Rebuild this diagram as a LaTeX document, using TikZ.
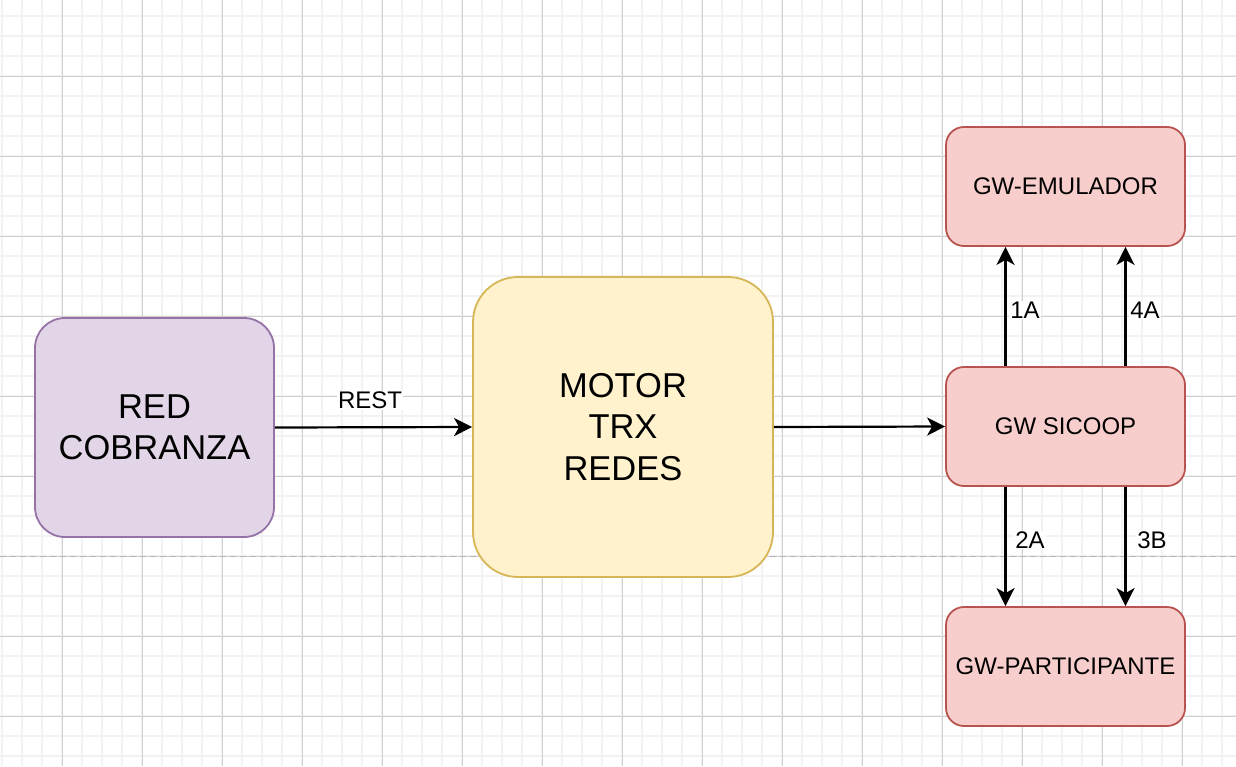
\documentclass[tikz,border=0pt]{standalone}
\usepackage{fontspec}
\setmainfont{Liberation Sans}
\usetikzlibrary{arrows.meta}
\definecolor{minorgrid}{HTML}{F2F2F2}
\definecolor{majorgrid}{HTML}{D0D0D0}
\definecolor{pagebreak}{HTML}{B5B5B5}
\definecolor{purplefill}{HTML}{E1D5E7}
\definecolor{purpleline}{HTML}{9673A6}
\definecolor{yellowfill}{HTML}{FFF2CC}
\definecolor{yellowline}{HTML}{D6B656}
\definecolor{redfill}{HTML}{F8CECC}
\definecolor{redline}{HTML}{B85450}
\tikzset{
  bigfont/.style={font=\fontsize{34.5}{41.5}\selectfont},
  smallfont/.style={font=\fontsize{24}{28}\selectfont},
  purplebox/.style={draw=purpleline, fill=purplefill, line width=1.8pt, rounded corners=30pt,
     minimum width=239pt, minimum height=219pt, align=center, bigfont, inner sep=0pt},
  yellowbox/.style={draw=yellowline, fill=yellowfill, line width=1.8pt, rounded corners=45pt,
     minimum width=300pt, minimum height=300pt, align=center, bigfont, inner sep=0pt},
  redbox/.style={draw=redline, fill=redfill, line width=1.8pt, rounded corners=18pt,
     minimum width=239pt, minimum height=119pt, align=center, smallfont, inner sep=0pt},
  conn/.style={line width=2.2pt, -{Stealth[length=18pt,width=18pt,inset=5pt]}},
  lbl/.style={smallfont, fill=white, inner sep=1pt},
}
\begin{document}
\begin{tikzpicture}[x=1pt,y=-1pt]
\useasboundingbox (0,0) rectangle (1236,766);
\fill[white] (0,0) rectangle (1236,766);
% minor grid
\foreach \k in {0,...,61} {\draw[minorgrid, line width=1.6pt] (2+20*\k,0) -- (2+20*\k,766);}
\foreach \k in {0,...,38} {\draw[minorgrid, line width=1.6pt] (0,16+20*\k) -- (1236,16+20*\k);}
% major grid
\foreach \k in {0,...,14} {\draw[majorgrid, line width=1pt] (62+80*\k,0) -- (62+80*\k,766);}
\foreach \k in {0,...,8} {\draw[majorgrid, line width=1pt] (0,76+80*\k) -- (1236,76+80*\k);}
% page break
\draw[pagebreak, line width=1.2pt, dash pattern=on 6pt off 4pt] (0,556.5) -- (1236,556.5);

\node[purplebox] (red) at (154.5,427.5) {RED\\COBRANZA};
\node[yellowbox] (motor) at (623,427) {MOTOR\\TRX\\REDES};
\node[redbox] (emu) at (1065.5,186.5) {GW-EMULADOR};
\node[redbox] (sic) at (1065.5,426.5) {GW SICOOP};
\node[redbox] (par) at (1065.5,666.5) {GW-PARTICIPANTE};

\draw[conn] (red.east) -- (motor.west);
\node[lbl] (rest) at (370,400) {REST};
\draw[conn] (motor.east) -- (sic.west);

\draw[conn] ([xshift=-60pt]sic.north) -- ([xshift=-60pt]emu.south);
\draw[conn] ([xshift=60pt]sic.north) -- ([xshift=60pt]emu.south);
\draw[conn] ([xshift=-60pt]sic.south) -- ([xshift=-60pt]par.north);
\draw[conn] ([xshift=60pt]sic.south) -- ([xshift=60pt]par.north);

\node[lbl] (l1a) at (1025,310) {1A};
\node[lbl] (l4a) at (1145,310) {4A};
\node[lbl] (l2a) at (1030,540) {2A};
\node[lbl] (l3b) at (1152,540) {3B};
\end{tikzpicture}
\end{document}
